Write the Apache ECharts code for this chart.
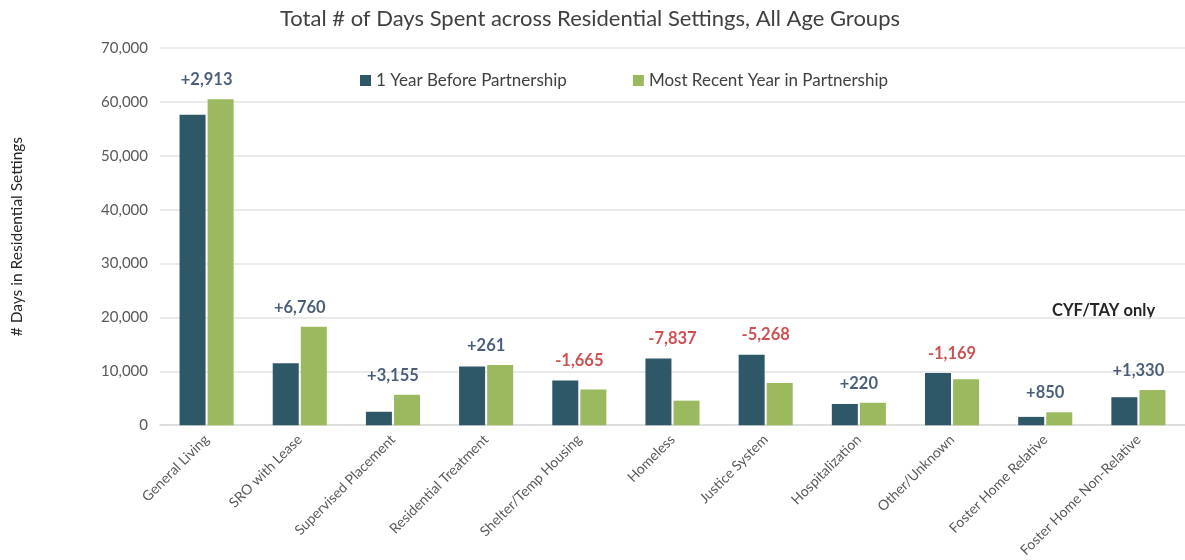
<!DOCTYPE html>
<html>
<head>
<meta charset="utf-8">
<script src="https://cdn.jsdelivr.net/npm/echarts@6/dist/echarts.min.js"></script>
<style>
  html, body { margin: 0; padding: 0; background: #fff; }
  #days-chart { width: 1185px; height: 560px; }
</style>
</head>
<body>
<div id="days-chart"></div>
<script>
// data
var categories = [
    'General Living', 'SRO with Lease', 'Supervised Placement', 'Residential Treatment',
    'Shelter/Temp Housing', 'Homeless', 'Justice System', 'Hospitalization',
    'Other/Unknown', 'Foster Home Relative', 'Foster Home Non-Relative'
];
var yearBefore = [57600, 11500, 2500, 10900, 8300, 12400, 13100, 3950, 9700, 1550, 5200];
var recentYear = [60513, 18260, 5655, 11161, 6635, 4563, 7832, 4170, 8531, 2400, 6530];
var yTicks = [0, 10000, 20000, 30000, 40000, 50000, 60000, 70000];

var dom = document.getElementById('days-chart');
var myChart = echarts.init(dom, null, { renderer: 'canvas' });

var fmt = function (v) {
    return String(v).replace(/\B(?=(\d{3})+(?!\d))/g, ',');
};

// change labels sit over the taller bar of each pair
var diffPoints = categories.map(function (c, i) {
    var d = recentYear[i] - yearBefore[i];
    return {
        value: Math.max(yearBefore[i], recentYear[i]),
        diff: d,
        label: { color: d < 0 ? '#bf2327' : '#1c3557' }
    };
});

var option = {
    backgroundColor: '#fff',
    title: {
        text: 'Total # of Days Spent across Residential Settings, All Age Groups',
        left: 585,
        textAlign: 'center',
        top: 3,
        textStyle: { fontFamily: 'Lato', fontSize: 22, fontWeight: 'normal', color: '#404040' }
    },
    legend: {
        left: 355,
        top: 67,
        itemWidth: 11,
        itemHeight: 11,
        itemGap: 66,
        icon: 'rect',
        textStyle: { fontFamily: 'Lato', fontSize: 17, color: '#404040' },
        data: ['1 Year Before Partnership', 'Most Recent Year in Partnership']
    },
    grid: { left: 160, right: -4, top: 48, bottom: 132 },
    xAxis: {
        type: 'category',
        data: categories,
        axisTick: { show: false },
        axisLine: { lineStyle: { color: '#d9d9d9', width: 1.5 } },
        axisLabel: {
            rotate: 45,
            interval: 0,
            margin: 12,
            fontFamily: 'Lato',
            fontSize: 14,
            color: '#595959'
        }
    },
    yAxis: {
        type: 'value',
        min: yTicks[0],
        max: yTicks[yTicks.length - 1],
        interval: 10000,
        name: '# Days in Residential Settings',
        nameLocation: 'middle',
        nameRotate: 90,
        nameGap: 135,
        nameTextStyle: { fontFamily: 'Lato', fontSize: 15.5, color: '#262626' },
        axisLine: { show: false },
        axisTick: { show: false },
        splitLine: { lineStyle: { color: '#e3e3e3', width: 1.5 } },
        axisLabel: {
            margin: 12,
            fontFamily: 'Lato',
            fontSize: 15,
            color: '#595959',
            formatter: function (v) { return fmt(v); }
        }
    },
    series: [
        {
            name: '1 Year Before Partnership',
            type: 'bar',
            data: yearBefore,
            barWidth: 26,
            barGap: '8%',
            itemStyle: { color: '#2e5767' }
        },
        {
            name: 'Most Recent Year in Partnership',
            type: 'bar',
            data: recentYear,
            barWidth: 26,
            itemStyle: { color: '#9bba5f' }
        },
        {
            name: 'change',
            type: 'scatter',
            data: diffPoints,
            symbolSize: 0,
            silent: true,
            label: {
                show: true,
                position: 'top',
                distance: 11,
                fontFamily: 'Lato',
                fontSize: 16.5,
                fontWeight: 'bold',
                formatter: function (p) {
                    var d = p.data.diff;
                    return (d < 0 ? '-' : '+') + fmt(Math.abs(d));
                }
            }
        }
    ],
    graphic: [
        {
            type: 'text',
            left: 1052,
            top: 302,
            style: {
                text: 'CYF/TAY only',
                font: 'bold 16.5px Lato',
                fill: '#262626'
            }
        }
    ]
};

myChart.setOption(option);
window.addEventListener('resize', myChart.resize);
</script>
</body>
</html>
